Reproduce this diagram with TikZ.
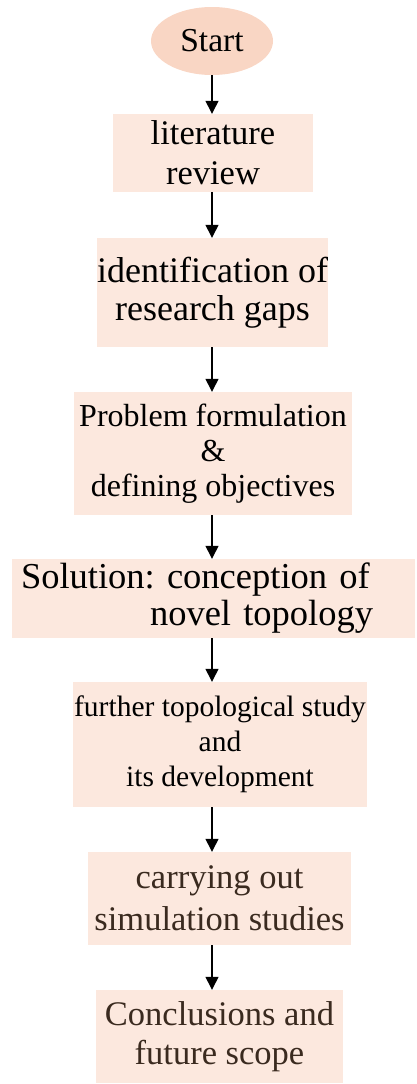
\documentclass[tikz,border=0pt]{standalone}
\usepackage{fontspec}
\setmainfont{Liberation Serif}
\usetikzlibrary{arrows.meta,shapes.geometric}
\definecolor{boxfill}{HTML}{FCE8DE}
\definecolor{startfill}{HTML}{F9D6C4}
\definecolor{browntext}{HTML}{3A2A1F}
\tikzset{
  stepbox/.style={rectangle, fill=boxfill, draw=none, inner sep=0pt, align=center},
  arr/.style={line width=1.3pt, -{Triangle[length=13pt,width=13pt]}},
}
\begin{document}
\frenchspacing
\begin{tikzpicture}[x=1pt,y=1pt]
\useasboundingbox (0,0) rectangle (416,-1084);
\coordinate (ax) at (212,0);
\node[ellipse, fill=startfill, inner sep=0pt, minimum width=122pt, minimum height=68pt,
  font=\fontsize{33.5}{40}\selectfont] (start) at (212,-41) {Start};
\node[stepbox, minimum width=200pt, minimum height=78pt, font=\fontsize{34.5}{40}\selectfont]
  (b1) at (213,-153) {literature\\review};
\node[stepbox, minimum width=231pt, minimum height=109pt, font=\fontsize{36}{38}\selectfont]
  (b2) at (212.5,-292.5) {identification of\\research gaps};
\node[stepbox, minimum width=278pt, minimum height=123pt, font=\fontsize{32}{35}\selectfont]
  (b3) at (213,-453.5) {Problem formulation\\\&\\defining objectives};
\node[stepbox, minimum width=403pt, minimum height=79pt, inner xsep=9pt, text width=385pt, align=left,
  font=\fontsize{36.5}{37}\selectfont]
  (b4) at (213.5,-598.5) {Solution: conception of\\\hspace*{129pt}novel topology};
\node[stepbox, minimum width=294pt, minimum height=125pt, font=\fontsize{29.5}{35}\selectfont]
  (b5) at (220,-744.5) {further topological study\\and\\its development};
\node[stepbox, minimum width=263pt, minimum height=93pt, text=browntext, font=\fontsize{34.5}{42}\selectfont]
  (b6) at (219.5,-898.5) {carrying out\\simulation studies};
\node[stepbox, minimum width=247pt, minimum height=93pt, text=browntext, font=\fontsize{34.5}{39}\selectfont]
  (b7) at (219.5,-1036.5) {Conclusions and\\future scope};
\draw[arr] (start.south -| ax) -- (b1.north -| ax);
\draw[arr] (b1.south -| ax) -- (b2.north -| ax);
\draw[arr] (b2.south -| ax) -- (b3.north -| ax);
\draw[arr] (b3.south -| ax) -- (b4.north -| ax);
\draw[arr] (b4.south -| ax) -- (b5.north -| ax);
\draw[arr] (b5.south -| ax) -- (b6.north -| ax);
\draw[arr] (b6.south -| ax) -- (b7.north -| ax);
\end{tikzpicture}
\end{document}
